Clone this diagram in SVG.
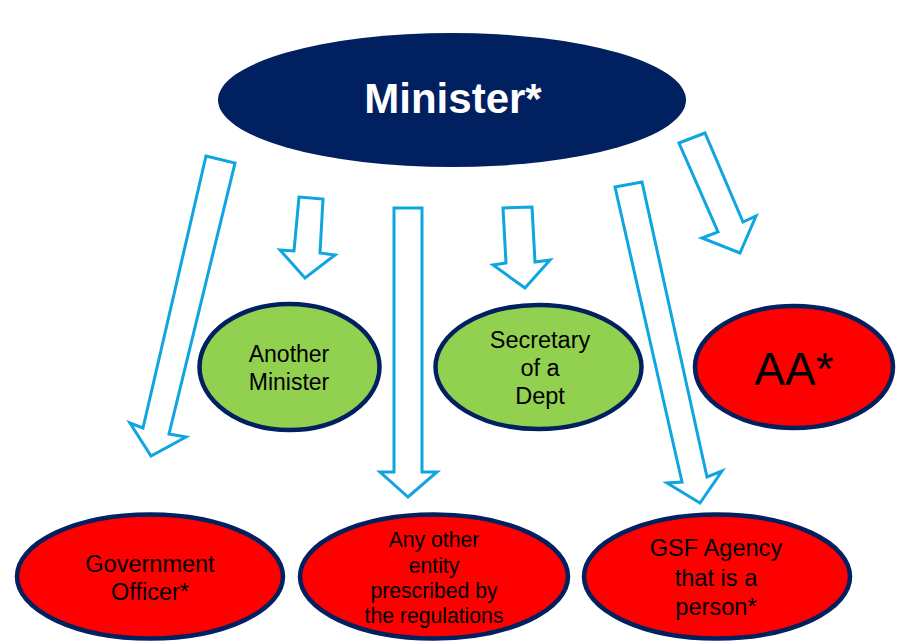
<svg xmlns="http://www.w3.org/2000/svg" width="903" height="642" viewBox="0 0 903 642">
<style>
.arrow{fill:#ffffff;stroke:#0EA5E0;stroke-width:3;stroke-linejoin:miter}
.node{stroke:#002060;stroke-width:4.5}
.green{fill:#92D050}
.red{fill:#FF0000}
.navy{fill:#002060}
.t{font-family:"Liberation Sans",Arial,sans-serif;fill:#000;text-anchor:middle}
</style>
<rect width="903" height="642" fill="#ffffff"/>
<g id="connectors">
<polygon class="arrow" points="206,156 235,163 169,434 186,437 151,456 130,423 143,428"/>
<polygon class="arrow" points="299,197 323,199 320,253 335,255 305,278 280,250 294,251"/>
<polygon class="arrow" points="394,208 422,208 422,472 437,472 408,497 380,472 394,472"/>
<polygon class="arrow" points="503,208 532,207 535,262 550,260 525,288 493,265 506,263"/>
<polygon class="arrow" points="615,187 642,182 707,477 722,471 700,503 667,483 682,482"/>
<polygon class="arrow" points="679,143 705,133 743,222 756,216 740,253 702,238 718,232"/>
</g>
<g id="minister">
<ellipse class="navy" cx="452" cy="100" rx="234" ry="67"/>
<text class="t" x="453" y="113" style="font-size:42px;font-weight:bold;fill:#ffffff">Minister*</text>
</g>
<g id="another-minister">
<ellipse class="node green" cx="289.5" cy="367" rx="90" ry="63"/>
<text class="t" x="289" y="362" style="font-size:23px">Another</text>
<text class="t" x="289" y="390" style="font-size:23px">Minister</text>
</g>
<g id="secretary">
<ellipse class="node green" cx="538.5" cy="367" rx="103" ry="62"/>
<text class="t" x="540" y="348" style="font-size:23.5px">Secretary</text>
<text class="t" x="540" y="376" style="font-size:23.5px">of a</text>
<text class="t" x="540" y="404" style="font-size:23.5px">Dept</text>
</g>
<g id="aa">
<ellipse class="node red" cx="794" cy="367" rx="99" ry="61"/>
<text class="t" x="794" y="385" style="font-size:46px">AA*</text>
</g>
<g id="government-officer">
<ellipse class="node red" cx="150" cy="576.5" rx="133" ry="62"/>
<text class="t" x="150" y="572" style="font-size:23.5px">Government</text>
<text class="t" x="150" y="600" style="font-size:23.5px">Officer*</text>
</g>
<g id="any-other-entity">
<ellipse class="node red" cx="434" cy="576.5" rx="134" ry="62"/>
<text class="t" x="434" y="547" style="font-size:21.2px">Any other</text>
<text class="t" x="434" y="572.5" style="font-size:21.2px">entity</text>
<text class="t" x="434" y="598" style="font-size:21.2px">prescribed by</text>
<text class="t" x="434" y="623" style="font-size:21.2px">the regulations</text>
</g>
<g id="gsf-agency">
<ellipse class="node red" cx="717" cy="576.5" rx="133" ry="62"/>
<text class="t" x="716" y="556" style="font-size:23.6px">GSF Agency</text>
<text class="t" x="716" y="586" style="font-size:23.6px">that is a</text>
<text class="t" x="716" y="615" style="font-size:23.6px">person*</text>
</g>
</svg>
